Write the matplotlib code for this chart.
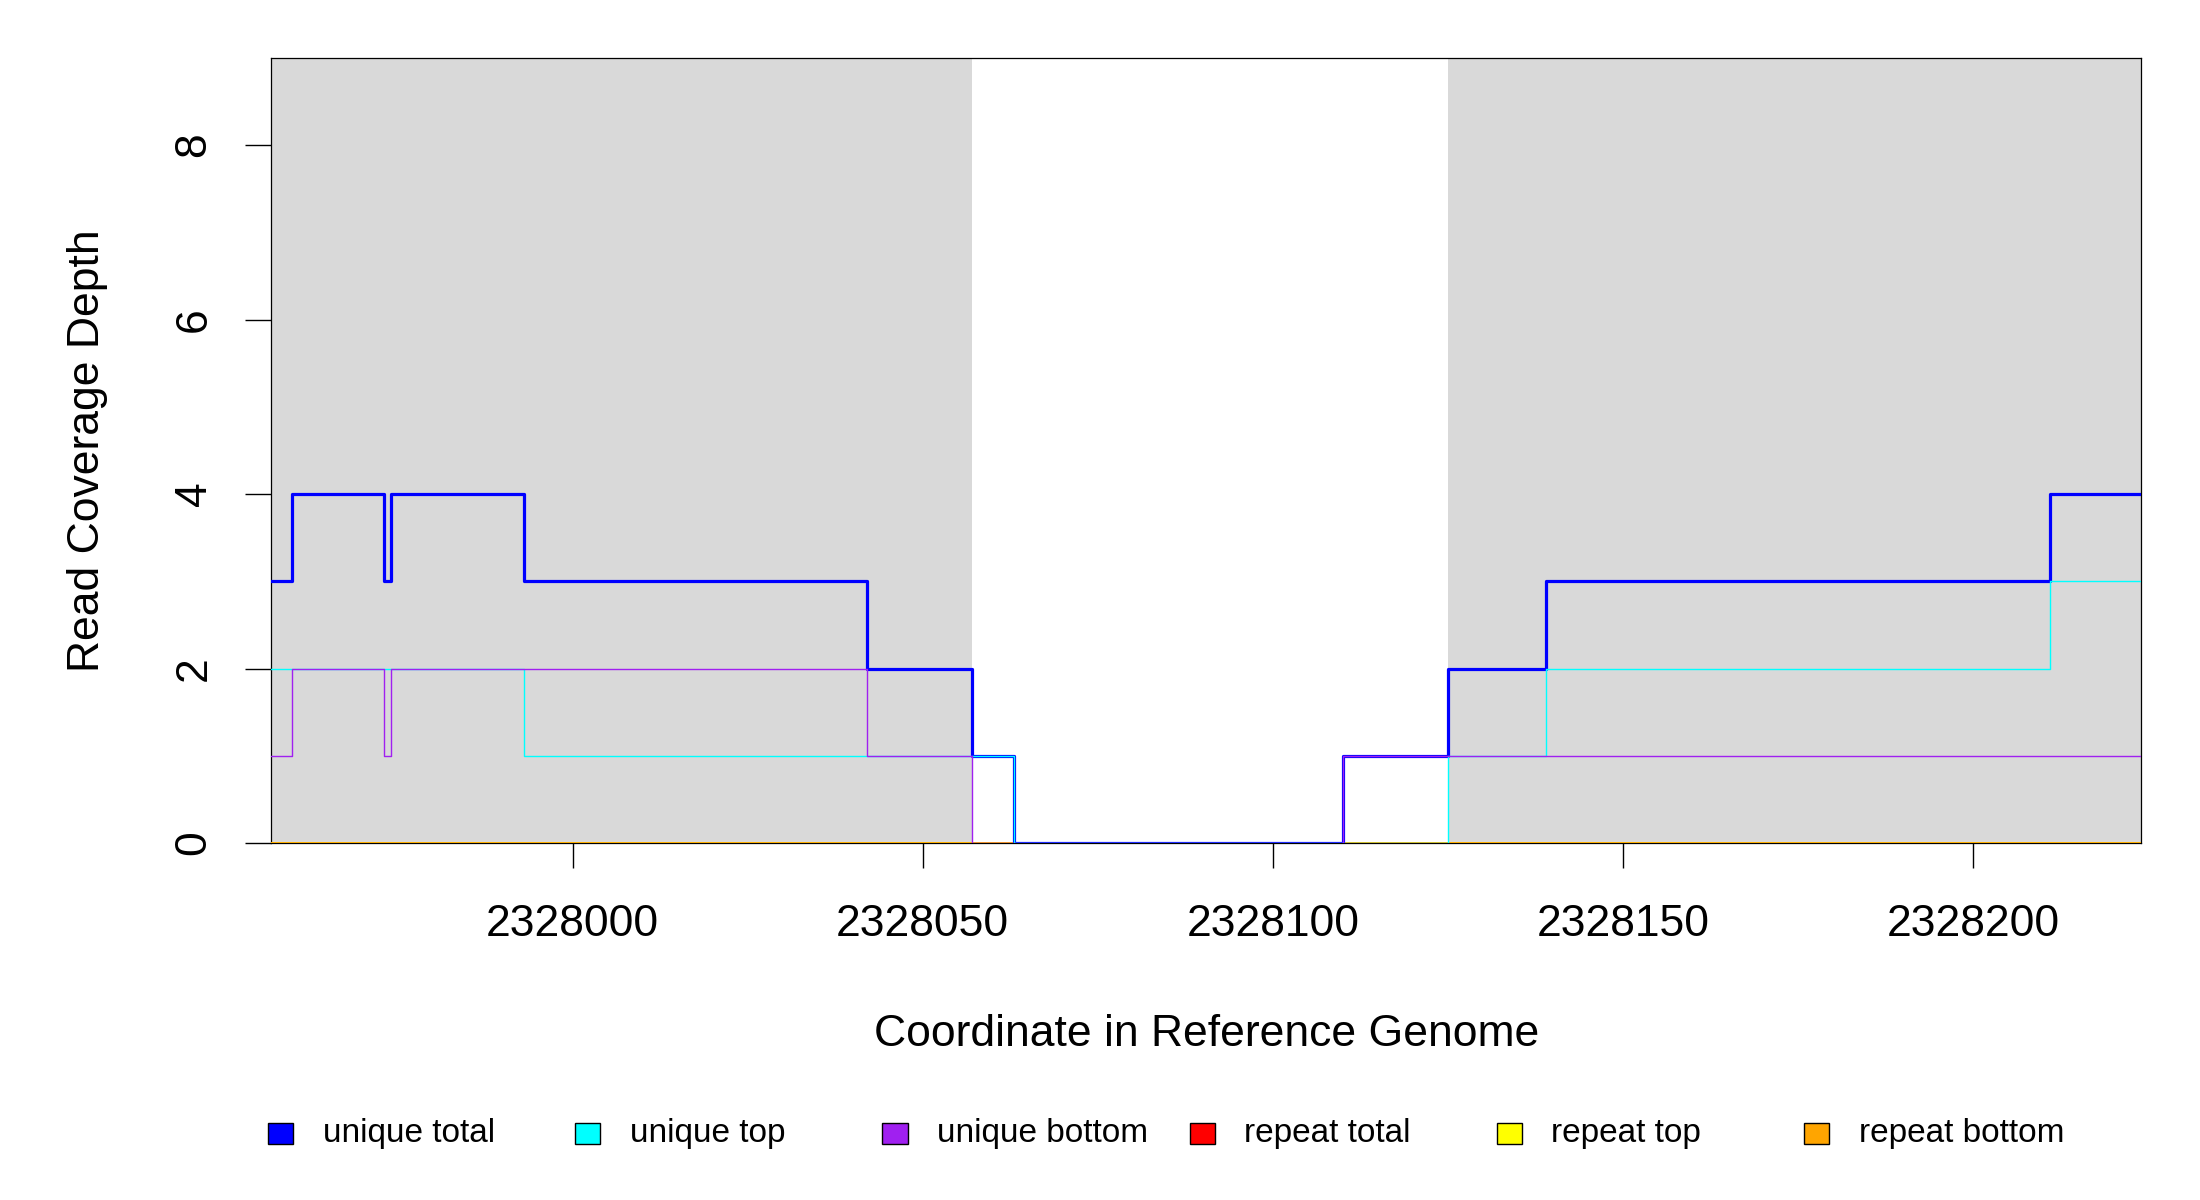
import matplotlib
matplotlib.use("Agg")
import matplotlib.pyplot as plt
from matplotlib.patches import Rectangle

plt.rcParams['font.family'] = ['Liberation Sans', 'DejaVu Sans']

# coverage steps: each value holds from its start coordinate to the next one
step_starts = [2327957, 2327960, 2327973, 2327974, 2327993, 2328042,
               2328057, 2328063, 2328110, 2328125, 2328139, 2328211]
step_end = 2328224
unique_total = [3, 4, 3, 4, 3, 2, 1, 0, 1, 2, 3, 4]
unique_top = [2, 2, 2, 2, 1, 1, 1, 0, 0, 1, 2, 3]
unique_bottom = [1, 2, 1, 2, 2, 1, 0, 0, 1, 1, 1, 1]
repeat_total = [0] * 12
repeat_top = [0] * 12
repeat_bottom = [0] * 12

# shaded (gray) spans along the reference
shaded_spans = [(2327957, 2328057), (2328125, 2328224)]

x_ticks = [2328000, 2328050, 2328100, 2328150, 2328200]
y_ticks = [0, 2, 4, 6, 8]

legend_names = ["unique total", "unique top", "unique bottom",
                "repeat total", "repeat top", "repeat bottom"]
legend_colors = ["#0000FF", "#00FFFF", "#A020F0", "#FF0000", "#FFFF00", "#FFA500"]

fig = plt.figure(figsize=(22, 12), dpi=100)
ax = fig.add_axes([0.1234, 0.2975, 0.8498, 0.6542])

for a, b in shaded_spans:
    ax.axvspan(a, b, color="#D9D9D9", lw=0, zorder=0)

xs = step_starts + [step_end]

def steps(vals):
    return vals + [vals[-1]]

# repeat series first, unique series drawn on top
ax.step(xs, steps(repeat_total), where="post", color=legend_colors[3], lw=1.8, zorder=3)
ax.step(xs, steps(repeat_top), where="post", color=legend_colors[4], lw=1.8, zorder=3)
ax.step(xs, steps(repeat_bottom), where="post", color=legend_colors[5], lw=1.8, zorder=3)
ax.step(xs, steps(unique_total), where="post", color=legend_colors[0], lw=2.3, zorder=4)
ax.step(xs, steps(unique_top), where="post", color=legend_colors[1], lw=1.0, zorder=4)
ax.step(xs, steps(unique_bottom), where="post", color=legend_colors[2], lw=1.0, zorder=4)

ax.set_xlim(2327957, 2328224)
ax.set_ylim(0, 9)

ax.set_xticks(x_ticks)
ax.set_xticklabels([str(t) for t in x_ticks])
ax.set_yticks(y_ticks)
ax.set_yticklabels([str(t) for t in y_ticks])
ax.tick_params(axis="x", length=18, width=1, pad=26, labelsize=32)
ax.tick_params(axis="y", length=19, width=1, pad=22, labelsize=32, labelrotation=90)
for lab in ax.get_yticklabels():
    lab.set_va("center")

for sp in ax.spines.values():
    sp.set_linewidth(0.9)
    sp.set_color("black")

ax.set_xlabel("Coordinate in Reference Genome", fontsize=32, va="center")
ax.xaxis.set_label_coords(0.5, -0.2435)
ax.set_ylabel("Read Coverage Depth", fontsize=32, va="center")
ax.yaxis.set_label_coords(-0.0986, 0.5)

# legend row along the bottom
for i, (name, col) in enumerate(zip(legend_names, legend_colors)):
    cx = 0.1276 + i * 0.1396
    cy = 0.0558
    fig.add_artist(Rectangle((cx - 0.0057, cy - 0.0088), 0.0114, 0.0175,
                             transform=fig.transFigure, facecolor=col,
                             edgecolor="black", lw=1.0))
    fig.text(cx + 0.0192, cy, name, fontsize=24, ha="left", va="center")

fig.savefig("out.png", dpi=100)
